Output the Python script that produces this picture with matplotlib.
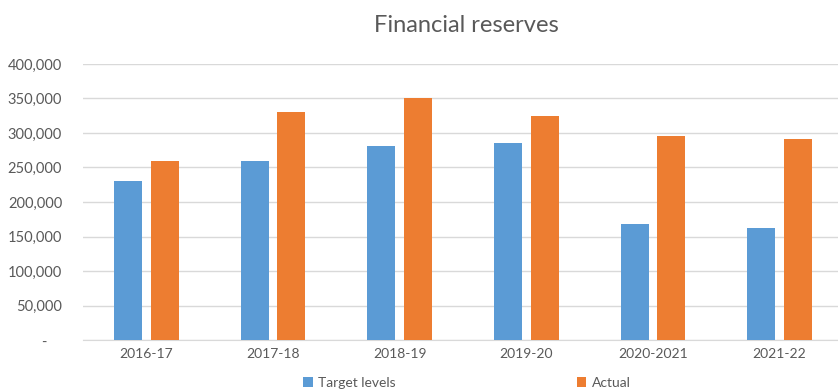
import matplotlib

matplotlib.use("Agg")
import matplotlib.pyplot as plt
import numpy as np
from matplotlib.ticker import FuncFormatter

plt.rcParams["font.family"] = ["Lato", "DejaVu Sans"]

anos = ["2016-17", "2017-18", "2018-19", "2019-20", "2020-2021", "2021-22"]
metas = [230000, 259000, 281000, 286000, 168000, 163000]
reais = [259000, 331000, 351000, 324000, 295000, 292000]
yticks = [0, 50000, 100000, 150000, 200000, 250000, 300000, 350000, 400000]

AZUL = "#5B9BD5"
LARANJA = "#ED7D31"
CINZA_TXT = "#595959"
CINZA_GRADE = "#D9D9D9"

fig = plt.figure(figsize=(8.38, 3.92), dpi=100)
ax = fig.add_axes([83 / 838, 52 / 392, (843 - 83) / 838, 276 / 392])

x = np.arange(len(anos))
larg = 0.22
ax.bar(x - 0.145, metas, width=larg, color=AZUL, label="Target levels", zorder=3)
ax.bar(x + 0.145, reais, width=larg, color=LARANJA, label="Actual", zorder=3)

ax.set_xlim(-0.5, 5.5)
ax.set_ylim(0, 400000)
ax.set_yticks(yticks)
# formato contábil do Excel: zero vira "-" recuado
ax.yaxis.set_major_formatter(FuncFormatter(lambda v, _: "-    " if v == 0 else f"{v:,.0f}"))
ax.set_xticks(x, anos)
ax.grid(axis="y", color=CINZA_GRADE, linewidth=1, zorder=0)
for lado in ("top", "right", "left"):
    ax.spines[lado].set_visible(False)
ax.spines["bottom"].set_color(CINZA_GRADE)
ax.tick_params(axis="both", length=0, colors=CINZA_TXT, labelsize=10)
ax.tick_params(axis="y", pad=15, labelsize=10.5)
ax.tick_params(axis="x", pad=6)

fig.text(466 / 838, 1 - 25 / 392, "Financial reserves", ha="center", va="center",
         fontsize=17, color=CINZA_TXT)

fig.legend(loc="center", bbox_to_anchor=(467 / 838, 1 - 383 / 392), ncol=2,
           frameon=False, fontsize=10, labelcolor=CINZA_TXT, columnspacing=13,
           handlelength=0.7, handleheight=0.7, handletextpad=0.4)

fig.savefig("out.png", dpi=100)
